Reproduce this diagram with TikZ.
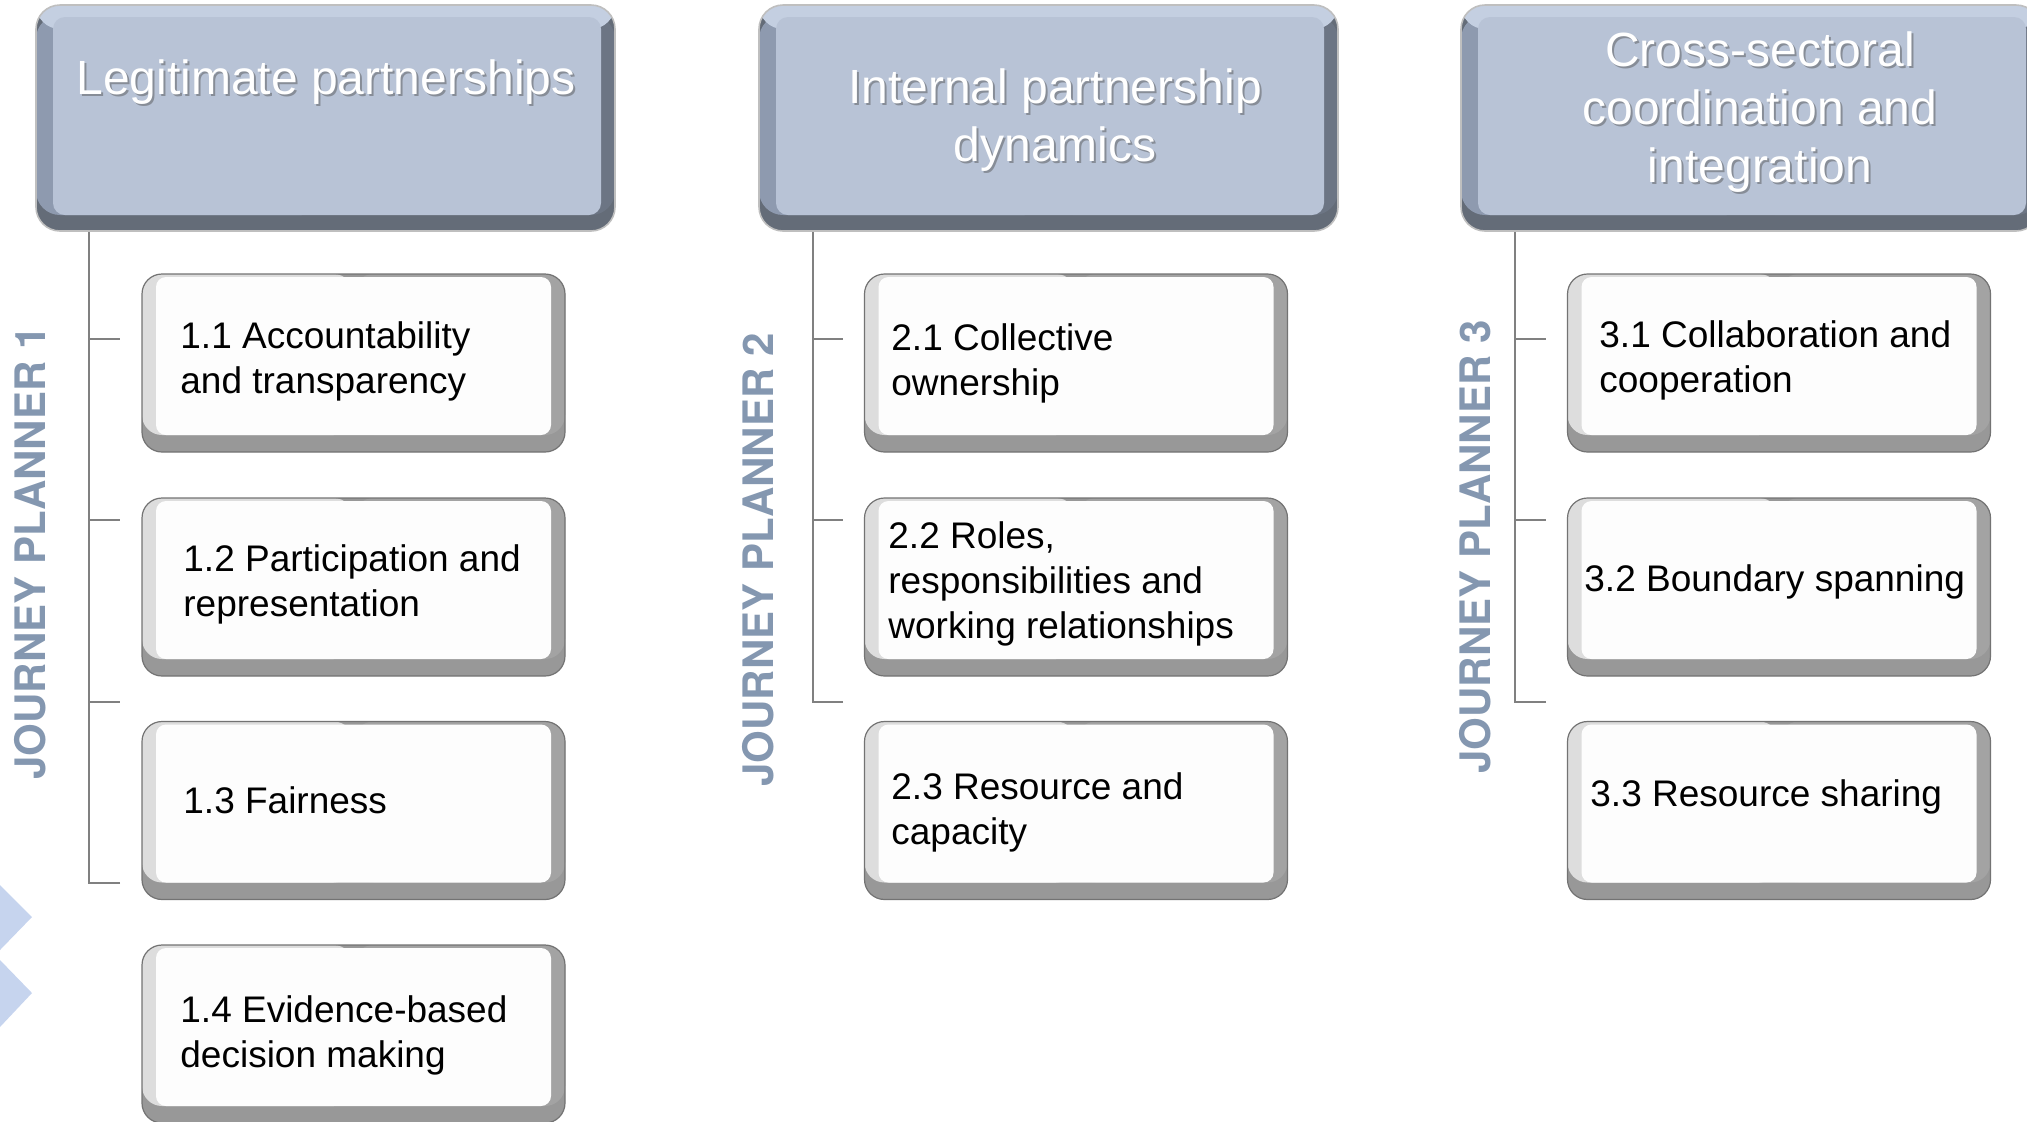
\documentclass[tikz,border=0pt]{standalone}
\usepackage{fontspec}
\setmainfont{Liberation Sans}
\newfontfamily\plannerfont{TeX Gyre Heros}
\usepackage{xcolor}

\definecolor{headface}{RGB}{184,195,214}
\definecolor{headleft}{RGB}{142,154,175}
\definecolor{headright}{RGB}{108,117,132}
\definecolor{headbottom}{RGB}{100,108,120}
\definecolor{headtop}{RGB}{196,207,225}
\definecolor{itemface}{RGB}{253,253,253}
\definecolor{itemleft}{RGB}{221,221,221}
\definecolor{itemright}{RGB}{163,163,163}
\definecolor{itembottom}{RGB}{152,152,152}
\definecolor{planner}{RGB}{132,151,176}
\definecolor{chevron}{RGB}{198,212,238}
\definecolor{spinegrey}{RGB}{128,128,128}

\tikzset{
  headbox/.style={draw=black!25, line width=0.8pt, rounded corners=12pt, fill=headbottom,
    minimum width=289.5pt, minimum height=113pt, inner sep=0pt,
    path picture={
      \fill[headright] ([yshift=8pt]path picture bounding box.south) rectangle ([yshift=-5pt]path picture bounding box.north east);
      \fill[headleft] ([yshift=8pt]path picture bounding box.south west) rectangle ([yshift=-5pt]path picture bounding box.north);
      \fill[headtop] (path picture bounding box.north west) rectangle ([yshift=-12pt]path picture bounding box.north east);
      \fill[headface, rounded corners=6pt] ([xshift=8.5pt,yshift=-6pt]path picture bounding box.north west) rectangle ([xshift=-7pt,yshift=8pt]path picture bounding box.south east);
    }},
  itembox/.style={draw=black!55, line width=0.6pt, rounded corners=10pt, fill=itembottom,
    minimum width=211.5pt, minimum height=89pt, inner sep=0pt,
    path picture={
      \fill[itemright] ([yshift=8.5pt]path picture bounding box.south) rectangle (path picture bounding box.north east);
      \fill[itemleft] ([yshift=8.5pt]path picture bounding box.south west) rectangle (path picture bounding box.north);
      \fill[itemface, rounded corners=5pt] ([xshift=7pt,yshift=-1.5pt]path picture bounding box.north west) rectangle ([xshift=-7pt,yshift=8.5pt]path picture bounding box.south east);
    }},
  headtext/.style={text=white, align=center, inner sep=0pt, font=\fontsize{24}{29}\selectfont},
  headshadow/.style={headtext, text=black!70, opacity=0.45},
  itemtext/.style={anchor=west, align=left, inner sep=0pt, font=\fontsize{18.5}{22.5}\selectfont},
  plannertext/.style={rotate=90, text=planner, inner sep=0pt, font=\plannerfont\bfseries\fontsize{21}{25}\selectfont},
  spine/.style={draw=spinegrey, line width=1pt},
}

\begin{document}
\begin{tikzpicture}[x=0.5pt,y=-0.5pt]

\useasboundingbox (0,0) rectangle (2027,1121);
\clip (0,0) rectangle (2027,1121);

% chevrons at the left edge
\fill [chevron] (0,885) -- (32,917) -- (0,950) -- cycle;
\fill [chevron] (0,960) -- (32,993) -- (0,1027) -- cycle;

% headers
\node [headbox] (h1) at (325.5,118) {};
\node [headbox] (h2) at (1048.5,118) {};
\node [headbox] (h3) at (1750.5,118) {};

\node [headshadow] (h1s) at (328,84) {Legitimate partnerships};
\node [headtext] (h1t) at (326,82) {Legitimate partnerships};
\node [headshadow] (h2s) at (1057,122) {Internal partnership\\dynamics};
\node [headtext] (h2t) at (1055,120) {Internal partnership\\dynamics};
\node [headshadow] (h3s) at (1762,114) {Cross-sectoral\\coordination and\\integration};
\node [headtext] (h3t) at (1760,112) {Cross-sectoral\\coordination and\\integration};

% spines and ticks
\coordinate (s1) at (89,0);
\coordinate (s2) at (813,0);
\coordinate (s3) at (1515,0);
\foreach \y [count=\i] in {339,520,702,883} \coordinate (k1\i) at (120,\y);
\foreach \y [count=\i] in {339,520,702} \coordinate (k2\i) at (843,\y);
\foreach \y [count=\i] in {339,520,702} \coordinate (k3\i) at (1546,\y);

\draw [spine] (k14) -| (h1.south -| s1);
\foreach \i in {1,2,3} \draw [spine] (k1\i -| s1) -- (k1\i);
\draw [spine] (k23) -| (h2.south -| s2);
\foreach \i in {1,2} \draw [spine] (k2\i -| s2) -- (k2\i);
\draw [spine] (k33) -| (h3.south -| s3);
\foreach \i in {1,2} \draw [spine] (k3\i -| s3) -- (k3\i);

% planner labels
\node [plannertext] (p1) at (30,553) {JOURNEY PLANNER 1};
\node [plannertext] (p2) at (758,560) {JOURNEY PLANNER 2};
\node [plannertext] (p3) at (1475,547) {JOURNEY PLANNER 3};

% item boxes
\node [itembox] (b11) at (353.5,363) {};
\node [itembox] (b12) at (353.5,587) {};
\node [itembox] (b13) at (353.5,810.5) {};
\node [itembox] (b14) at (353.5,1034) {};
\node [itembox] (b21) at (1076,363) {};
\node [itembox] (b22) at (1076,587) {};
\node [itembox] (b23) at (1076,810.5) {};
\node [itembox] (b31) at (1779,363) {};
\node [itembox] (b32) at (1779,587) {};
\node [itembox] (b33) at (1779,810.5) {};

\node [itemtext] (t11) at (180,361) {1.1 Accountability\\and transparency};
\node [itemtext] (t12) at (183,584) {1.2 Participation and\\representation};
\node [itemtext] (t13) at (183,800) {1.3 Fairness};
\node [itemtext] (t14) at (180,1035) {1.4 Evidence-based\\decision making};
\node [itemtext] (t21) at (891,363) {2.1 Collective\\ownership};
\node [itemtext] (t22) at (888,584) {2.2 Roles,\\responsibilities and\\working relationships};
\node [itemtext] (t23) at (891,812) {2.3 Resource and\\capacity};
\node [itemtext] (t31) at (1599,360) {3.1 Collaboration and\\cooperation};
\node [itemtext] (t32) at (1584,582) {3.2 Boundary spanning};
\node [itemtext] (t33) at (1590,797) {3.3 Resource sharing};

\end{tikzpicture}
\end{document}
